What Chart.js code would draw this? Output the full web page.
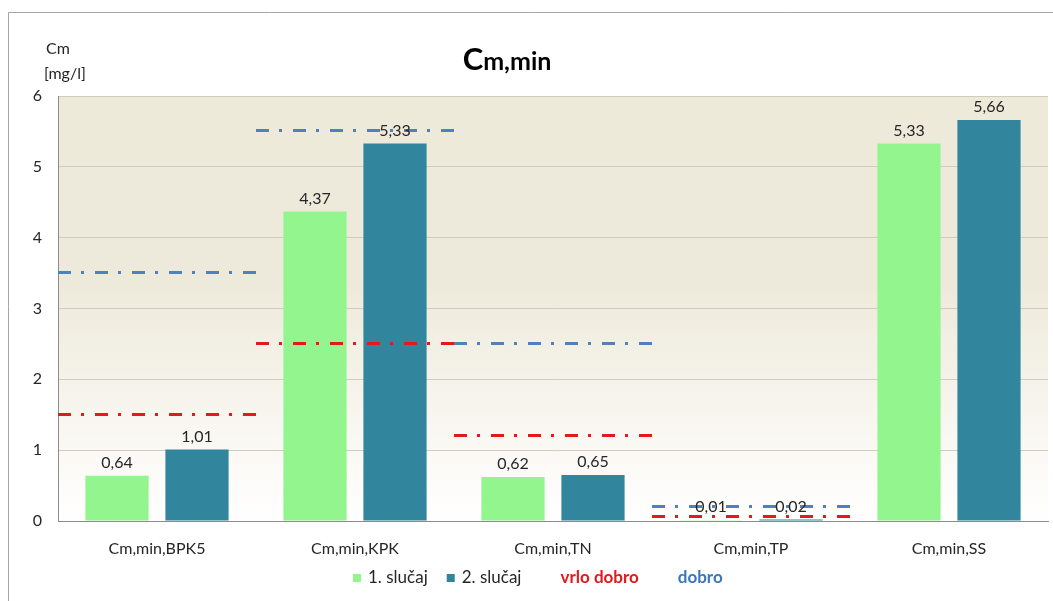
<!DOCTYPE html>
<html lang="hr">
<head>
<meta charset="utf-8">
<title>Cm,min</title>
<script src="https://cdn.jsdelivr.net/npm/chart.js@4.4.1/dist/chart.umd.min.js"></script>
<style>
  body { margin: 0; background: #fff; }
  #wrap { position: relative; width: 1053px; height: 601px; }
</style>
</head>
<body>
<div id="wrap"><canvas id="myChart" width="1053" height="601"></canvas></div>
<script>
// chart data
const categories = ['Cm,min,BPK5', 'Cm,min,KPK', 'Cm,min,TN', 'Cm,min,TP', 'Cm,min,SS'];
const slucaj1 = [0.64, 4.37, 0.62, 0.01, 5.33];
const slucaj2 = [1.01, 5.33, 0.65, 0.02, 5.66];
const vrloDobro = [1.5, 2.5, 1.2, 0.05, null];   // red limit per category
const dobro = [3.5, 5.5, 2.5, 0.2, null];        // blue limit per category
const yTicks = [0, 1, 2, 3, 4, 5, 6];

const FONT = 'Lato, "Open Sans", sans-serif';
const RED = '#e3191b';
const BLUE = '#4f81bd';

const fmt = v => v.toFixed(2).replace('.', ',');

// limit lines: each one covers the whole width of its category
const limits = {
  id: 'limits',
  afterDatasetsDraw(chart) {
    const c = chart.ctx, xs = chart.scales.x, ys = chart.scales.y;
    const half = (xs.getPixelForValue(1) - xs.getPixelForValue(0)) / 2;
    c.save();
    c.lineWidth = 3;
    c.lineCap = 'butt';
    c.setLineDash([13, 10, 3, 11]);
    [[vrloDobro, RED], [dobro, BLUE]].forEach(([vals, col]) => {
      c.strokeStyle = col;
      vals.forEach((v, i) => {
        if (v === null) return;
        const cx = xs.getPixelForValue(i), py = Math.round(ys.getPixelForValue(v)) - 0.5;
        c.beginPath();
        c.moveTo(cx - half, py);
        c.lineTo(cx + half, py);
        c.stroke();
      });
    });
    c.restore();
  }
};

const decor = {
  id: 'decor',
  beforeDraw(chart) {
    const c = chart.ctx, a = chart.chartArea;
    c.save();
    c.fillStyle = '#fff';
    c.fillRect(0, 0, chart.width, chart.height);
    // outer frame
    c.strokeStyle = '#a6a6a6';
    c.lineWidth = 1;
    c.beginPath();
    c.moveTo(8.5, chart.height);
    c.lineTo(8.5, 12.5);
    c.lineTo(chart.width, 12.5);
    c.stroke();
    // plot background gradient
    const g = c.createLinearGradient(0, a.top, 0, a.bottom);
    g.addColorStop(0, '#eeeada');
    g.addColorStop(0.45, '#eeeadb');
    g.addColorStop(1, '#ffffff');
    c.fillStyle = g;
    c.fillRect(a.left, a.top, a.right - a.left, a.bottom - a.top);
    c.restore();
  },
  afterDatasetsDraw(chart) {
    const c = chart.ctx;
    c.save();
    c.font = '16px ' + FONT;
    c.fillStyle = '#262626';
    c.textAlign = 'center';
    c.textBaseline = 'bottom';
    [0, 1].forEach(di => {
      const meta = chart.getDatasetMeta(di);
      meta.data.forEach((bar, i) => {
        c.fillText(fmt(chart.data.datasets[di].data[i]), bar.x, bar.y - 5);
      });
    });
    c.restore();
  },
  afterDraw(chart) {
    const c = chart.ctx;
    c.save();
    c.fillStyle = '#000';
    c.textBaseline = 'alphabetic';
    // title with big C
    c.font = 'bold 31px ' + FONT;
    const w1 = c.measureText('C').width;
    c.font = 'bold 25px ' + FONT;
    const w2 = c.measureText('m,min').width;
    const x0 = 507 - (w1 + w2) / 2;
    c.font = 'bold 31px ' + FONT;
    c.fillText('C', x0, 70);
    c.font = 'bold 25px ' + FONT;
    c.fillText('m,min', x0 + w1, 70);
    // y axis unit
    c.fillStyle = '#262626';
    c.font = '16px ' + FONT;
    c.fillText('Cm', 46, 54);
    c.fillText('[mg/l]', 44, 79);
    // legend
    let x = 353;
    const y = 578;
    c.textBaseline = 'middle';
    const items = [
      {text: '1. slučaj', box: chart.data.datasets[0].backgroundColor, color: '#262626', bold: false},
      {text: '2. slučaj', box: chart.data.datasets[1].backgroundColor, color: '#262626', bold: false},
      {text: 'vrlo dobro', box: null, color: RED, bold: true},
      {text: 'dobro', box: null, color: '#3a78b8', bold: true}
    ];
    items.forEach((it, k) => {
      if (it.box) {
        c.fillStyle = it.box;
        c.fillRect(x, y - 4, 8, 8);
        x += 15;
      }
      c.font = (it.bold ? 'bold ' : '') + '17px ' + FONT;
      c.fillStyle = it.color;
      c.fillText(it.text, x, y);
      x += c.measureText(it.text).width + (k === 0 ? 19 : 39);
    });
    c.restore();
  }
};

const config = {
  type: 'bar',
  data: {
    labels: categories,
    datasets: [
      {label: '1. slučaj', data: slucaj1, backgroundColor: '#92f58e'},
      {label: '2. slučaj', data: slucaj2, backgroundColor: '#31859c'}
    ]
  },
  options: {
    responsive: false,
    animation: false,
    categoryPercentage: 0.808,
    barPercentage: 0.79,
    layout: {padding: {top: 96, left: 0, right: 5, bottom: 0}},
    scales: {
      x: {
        grid: {display: false},
        border: {color: '#8c8c8c'},
        ticks: {color: '#262626', font: {family: FONT, size: 16}, padding: 10},
        afterFit: s => { s.height = 80; }
      },
      y: {
        min: 0, max: 6,
        afterBuildTicks: s => { s.ticks = yTicks.map(v => ({value: v})); },
        grid: {color: '#cfcbbd', drawTicks: false},
        border: {color: '#8c8c8c'},
        ticks: {color: '#262626', font: {family: FONT, size: 16}, padding: 16},
        afterFit: s => { s.width = 58; }
      }
    },
    plugins: {
      legend: {display: false},
      tooltip: {enabled: false}
    }
  },
  plugins: [limits, decor]
};

new Chart(document.getElementById('myChart'), config);
</script>
</body>
</html>
